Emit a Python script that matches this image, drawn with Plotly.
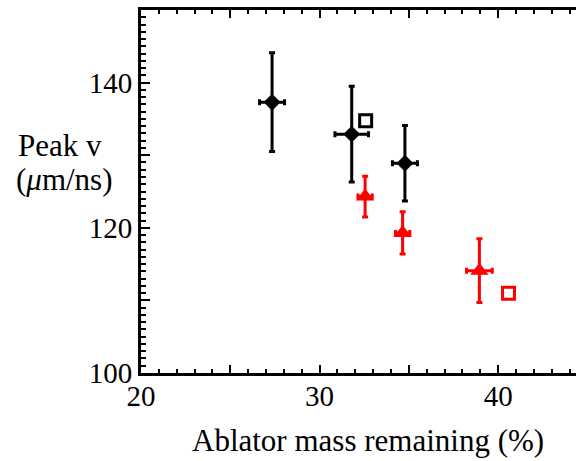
import plotly.graph_objects as go

# Data
black_x = [27.34, 31.8, 34.78]
black_y = [137.3, 132.9, 128.9]
black_yerr = [6.8, 6.6, 5.2]
black_xerr = [0.7, 0.94, 0.7]

red_x = [32.55, 34.65, 38.95]
red_y = [124.3, 119.3, 114.1]
red_yerr = [2.8, 2.9, 4.4]
red_xerr = [0.4, 0.4, 0.72]

sq_black_x = [32.58]
sq_black_y = [134.75]
sq_red_x = [40.58]
sq_red_y = [110.97]

x_major = [20, 25, 30, 35, 40, 45]
x_labels = ["20", "", "30", "", "40", ""]
y_major = [100, 110, 120, 130, 140, 150]
y_labels = ["100", "", "120", "", "140", ""]

FONT = "Liberation Serif"
FS_TICK = 29
FS_TITLE = 31

fig = go.Figure()

fig.add_trace(go.Scatter(
    x=black_x, y=black_y, mode="markers",
    marker=dict(symbol="diamond", size=13, color="black"),
    error_y=dict(type="data", array=black_yerr, color="black", thickness=3, width=3),
    error_x=dict(type="data", array=black_xerr, color="black", thickness=3, width=3),
    showlegend=False))

fig.add_trace(go.Scatter(
    x=red_x, y=red_y, mode="markers",
    marker=dict(symbol="triangle-up", size=16, color="#ff0000"),
    error_y=dict(type="data", array=red_yerr, color="#ff0000", thickness=3, width=3),
    error_x=dict(type="data", array=red_xerr, color="#ff0000", thickness=3, width=3),
    showlegend=False))

fig.add_trace(go.Scatter(
    x=sq_black_x, y=sq_black_y, mode="markers",
    marker=dict(symbol="square-open", size=12, color="black", line=dict(width=3, color="black")),
    showlegend=False))

fig.add_trace(go.Scatter(
    x=sq_red_x, y=sq_red_y, mode="markers",
    marker=dict(symbol="square-open", size=12, color="#ff0000", line=dict(width=3, color="#ff0000")),
    showlegend=False))

fig.update_xaxes(
    range=[20, 44.36], tickvals=x_major, ticktext=x_labels,
    ticks="inside", ticklen=8, tickwidth=2, tickcolor="black",
    minor=dict(dtick=1, ticks="inside", ticklen=4, tickwidth=2, tickcolor="black"),
    showline=True, linewidth=3, linecolor="black", mirror="ticks",
    showgrid=False, zeroline=False, ticklabelstandoff=-5,
    tickfont=dict(family=FONT, size=FS_TICK, color="black"))

fig.update_yaxes(
    range=[100, 150], tickvals=y_major, ticktext=y_labels,
    ticks="inside", ticklen=9, tickwidth=2, tickcolor="black",
    minor=dict(dtick=1, ticks="inside", ticklen=5, tickwidth=2, tickcolor="black"),
    showline=True, linewidth=3, linecolor="black", mirror=False,
    showgrid=False, zeroline=False,
    tickfont=dict(family=FONT, size=FS_TICK, color="black"))

W, H = 576, 461
L, R, T, B = 141, 0, 10, 88
pw, ph = W - L - R, H - T - B

def px(xp):
    return (xp - L) / pw

def py(yp):
    return (H - B - yp) / ph

annots = [
    dict(text="Peak v", x=px(60), y=py(145)),
    dict(text="(<i>μ</i>m/ns)", x=px(64), y=py(180)),
    dict(text="Ablator mass remaining (%)", x=px(368), y=py(440)),
]
for a in annots:
    fig.add_annotation(text=a["text"], x=a["x"], y=a["y"], xref="paper", yref="paper",
                       xanchor="center", yanchor="middle", showarrow=False,
                       font=dict(family=FONT, size=FS_TITLE, color="black"))

fig.update_layout(
    width=W, height=H,
    margin=dict(l=L, r=R, t=T, b=B),
    paper_bgcolor="white", plot_bgcolor="white",
)

fig.write_html("out.html")
